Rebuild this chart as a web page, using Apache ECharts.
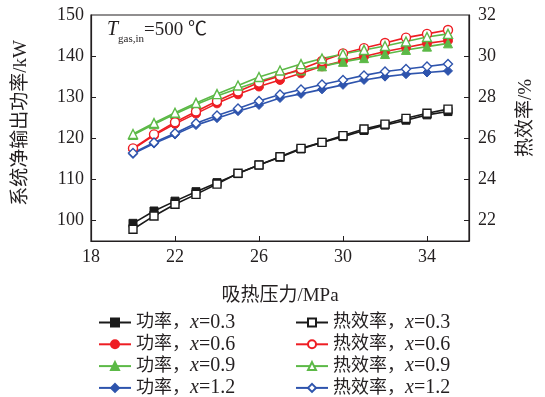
<!DOCTYPE html>
<html>
<head>
<meta charset="utf-8">
<script src="https://cdn.jsdelivr.net/npm/echarts@6/dist/echarts.min.js"></script>
<style>
  html, body { margin: 0; padding: 0; background: #fff; }
  #chart { width: 545px; height: 397px; }
</style>
</head>
<body>
<div id="chart"></div>
<script>
const pressure = [20, 21, 22, 23, 24, 25, 26, 27, 28, 29, 30, 31, 32, 33, 34, 35]

// power, kW (left axis)
const powerX03 = [99.3, 102.3, 104.7, 107.0, 109.2, 111.4, 113.5, 115.4, 117.4, 119.0, 120.4, 121.9, 123.2, 124.4, 125.7, 126.5]
const powerX06 = [117.4, 120.7, 123.5, 126.0, 128.5, 130.7, 132.6, 134.2, 135.8, 137.5, 138.8, 139.9, 141.1, 142.1, 143.1, 143.8]
const powerX09 = [120.8, 123.4, 125.9, 128.2, 130.3, 132.1, 133.9, 135.4, 136.5, 137.5, 138.6, 139.5, 140.5, 141.5, 142.3, 143.1]
const powerX12 = [116.2, 118.7, 120.9, 123.2, 124.9, 126.6, 128.1, 129.8, 130.8, 131.9, 133.0, 134.2, 135.0, 135.6, 136.0, 136.4]

// thermal efficiency, % (right axis)
const effX03 = [21.57, 22.22, 22.79, 23.27, 23.77, 24.30, 24.70, 25.10, 25.51, 25.80, 26.13, 26.45, 26.69, 26.97, 27.22, 27.42]
const effX06 = [25.51, 26.19, 26.78, 27.30, 27.81, 28.28, 28.71, 29.03, 29.37, 29.76, 30.13, 30.39, 30.64, 30.90, 31.08, 31.27]
const effX09 = [26.21, 26.74, 27.24, 27.72, 28.15, 28.57, 28.98, 29.30, 29.61, 29.88, 30.10, 30.30, 30.49, 30.71, 30.93, 31.08]
const effX12 = [25.28, 25.79, 26.24, 26.73, 27.11, 27.45, 27.81, 28.13, 28.37, 28.62, 28.84, 29.06, 29.25, 29.37, 29.49, 29.62]

const xRatios = ['0.3', '0.6', '0.9', '1.2']
const xLabels = [18, 22, 26, 30, 34]
const leftLabels = [100, 110, 120, 130, 140, 150]
const rightLabels = [22, 24, 26, 28, 30, 32]

const FONT = '"Liberation Serif", "Noto Sans CJK SC", serif'
const INK = '#231f20'
const colors = ['#1a1a1a', '#ee1d23', '#5cb947', '#2e54ad']
const symbols = ['rect', 'circle', 'triangle', 'diamond']
const symbolSizes = [8, 9, 9, 9]
const powers = [powerX03, powerX06, powerX09, powerX12]
const effs = [effX03, effX06, effX09, effX12]

const pair = (ys) => pressure.map((p, i) => [p, ys[i]])
const powerName = r => '功率，x=' + r
const effName = r => '热效率，x=' + r

const series = []
xRatios.forEach((r, k) => {
  series.push({
    name: powerName(r), type: 'line', yAxisIndex: 0,
    data: pair(powers[k]),
    symbol: symbols[k], symbolSize: symbolSizes[k],
    lineStyle: { color: colors[k], width: 1.6 },
    itemStyle: { color: colors[k], borderColor: colors[k], borderWidth: 1 },
    z: 2,
  })
})
xRatios.forEach((r, k) => {
  series.push({
    name: effName(r), type: 'line', yAxisIndex: 1,
    data: pair(effs[k]),
    symbol: symbols[k], symbolSize: symbolSizes[k],
    lineStyle: { color: colors[k], width: 1.6 },
    itemStyle: { color: '#fff', borderColor: colors[k], borderWidth: 1.4 },
    z: 3,
  })
})

const legendText = {
  fontFamily: FONT, fontSize: 18, color: INK, lineHeight: 21,
  rich: {
    c: { fontFamily: FONT, fontSize: 18, color: INK },
    i: { fontFamily: FONT, fontSize: 20, color: INK, fontStyle: 'italic' },
    n: { fontFamily: FONT, fontSize: 20, color: INK },
  },
}
const legendFmt = name => {
  const [head, tail] = name.split('x')
  return '{c|' + head + '}{i|x}{n|' + tail + '}'
}
const legendBase = {
  orient: 'vertical', itemWidth: 32, itemHeight: 10, itemGap: 0.8,
  top: 312, height: 110, padding: 0,
  textStyle: legendText, formatter: legendFmt,
  selectedMode: false,
}

const axisName = { fontFamily: FONT, fontSize: 19, color: INK }
const axisLbl = { fontFamily: FONT, fontSize: 18, color: INK }

const option = {
  animation: false,
  backgroundColor: '#fff',
  grid: {
    left: 91, right: 76, top: 15, bottom: 156,
    show: true, borderColor: INK, borderWidth: 1.2, backgroundColor: 'transparent',
  },
  title: {
    left: 107, top: 20, padding: 0,
    text: '{T|T}{s|gas,in}{n|=500 ℃}',
    textStyle: {
      fontWeight: 'normal',
      rich: {
        T: { fontFamily: FONT, fontSize: 20, fontStyle: 'italic', fontWeight: 'normal', color: INK, verticalAlign: 'bottom', padding: [0, 0, 5, 0] },
        s: { fontFamily: FONT, fontSize: 11, fontWeight: 'normal', color: INK, verticalAlign: 'bottom' },
        n: { fontFamily: FONT, fontSize: 19, fontWeight: 'normal', color: INK, verticalAlign: 'bottom', padding: [0, 0, 5, 0] },
      },
    },
  },
  legend: [
    Object.assign({}, legendBase, { left: 98, data: xRatios.map(powerName) }),
    Object.assign({}, legendBase, { left: 295, data: xRatios.map(effName) }),
  ],
  xAxis: {
    type: 'value', min: 18, max: 36,
    name: '吸热压力/MPa', nameLocation: 'middle', nameGap: 46, nameTextStyle: axisName,
    axisLine: { show: true, lineStyle: { color: INK, width: 1.2 } },
    axisTick: { show: true, inside: true, length: 5, lineStyle: { color: INK }, customValues: [22, 26, 30, 34] },
    axisLabel: Object.assign({ margin: 7, customValues: xLabels }, axisLbl),
    splitLine: { show: false },
  },
  yAxis: [
    {
      type: 'value', min: 95, max: 150, position: 'left',
      name: '系统净输出功率/kW', nameLocation: 'middle', nameGap: 60,
      nameTextStyle: Object.assign({ padding: [0, 0, 0, 10] }, axisName),
      axisLine: { show: true, lineStyle: { color: INK, width: 1.2 } },
      axisTick: { show: true, inside: true, length: 5, lineStyle: { color: INK }, customValues: [100, 110, 120, 130, 140] },
      axisLabel: Object.assign({ margin: 7, customValues: leftLabels }, axisLbl),
      splitLine: { show: false },
    },
    {
      type: 'value', min: 21, max: 32, position: 'right',
      name: '热效率/%', nameLocation: 'middle', nameGap: 48,
      nameTextStyle: Object.assign({ padding: [0, 0, 0, 20] }, axisName),
      axisLine: { show: true, lineStyle: { color: INK, width: 1.2 } },
      axisTick: { show: true, inside: true, length: 5, lineStyle: { color: INK }, customValues: [22, 24, 26, 28, 30] },
      axisLabel: Object.assign({ margin: 9, customValues: rightLabels }, axisLbl),
      splitLine: { show: false },
    },
  ],
  series,
}

const chart = echarts.init(document.getElementById('chart'), undefined, { renderer: 'canvas' })
chart.setOption(option)
</script>
</body>
</html>
